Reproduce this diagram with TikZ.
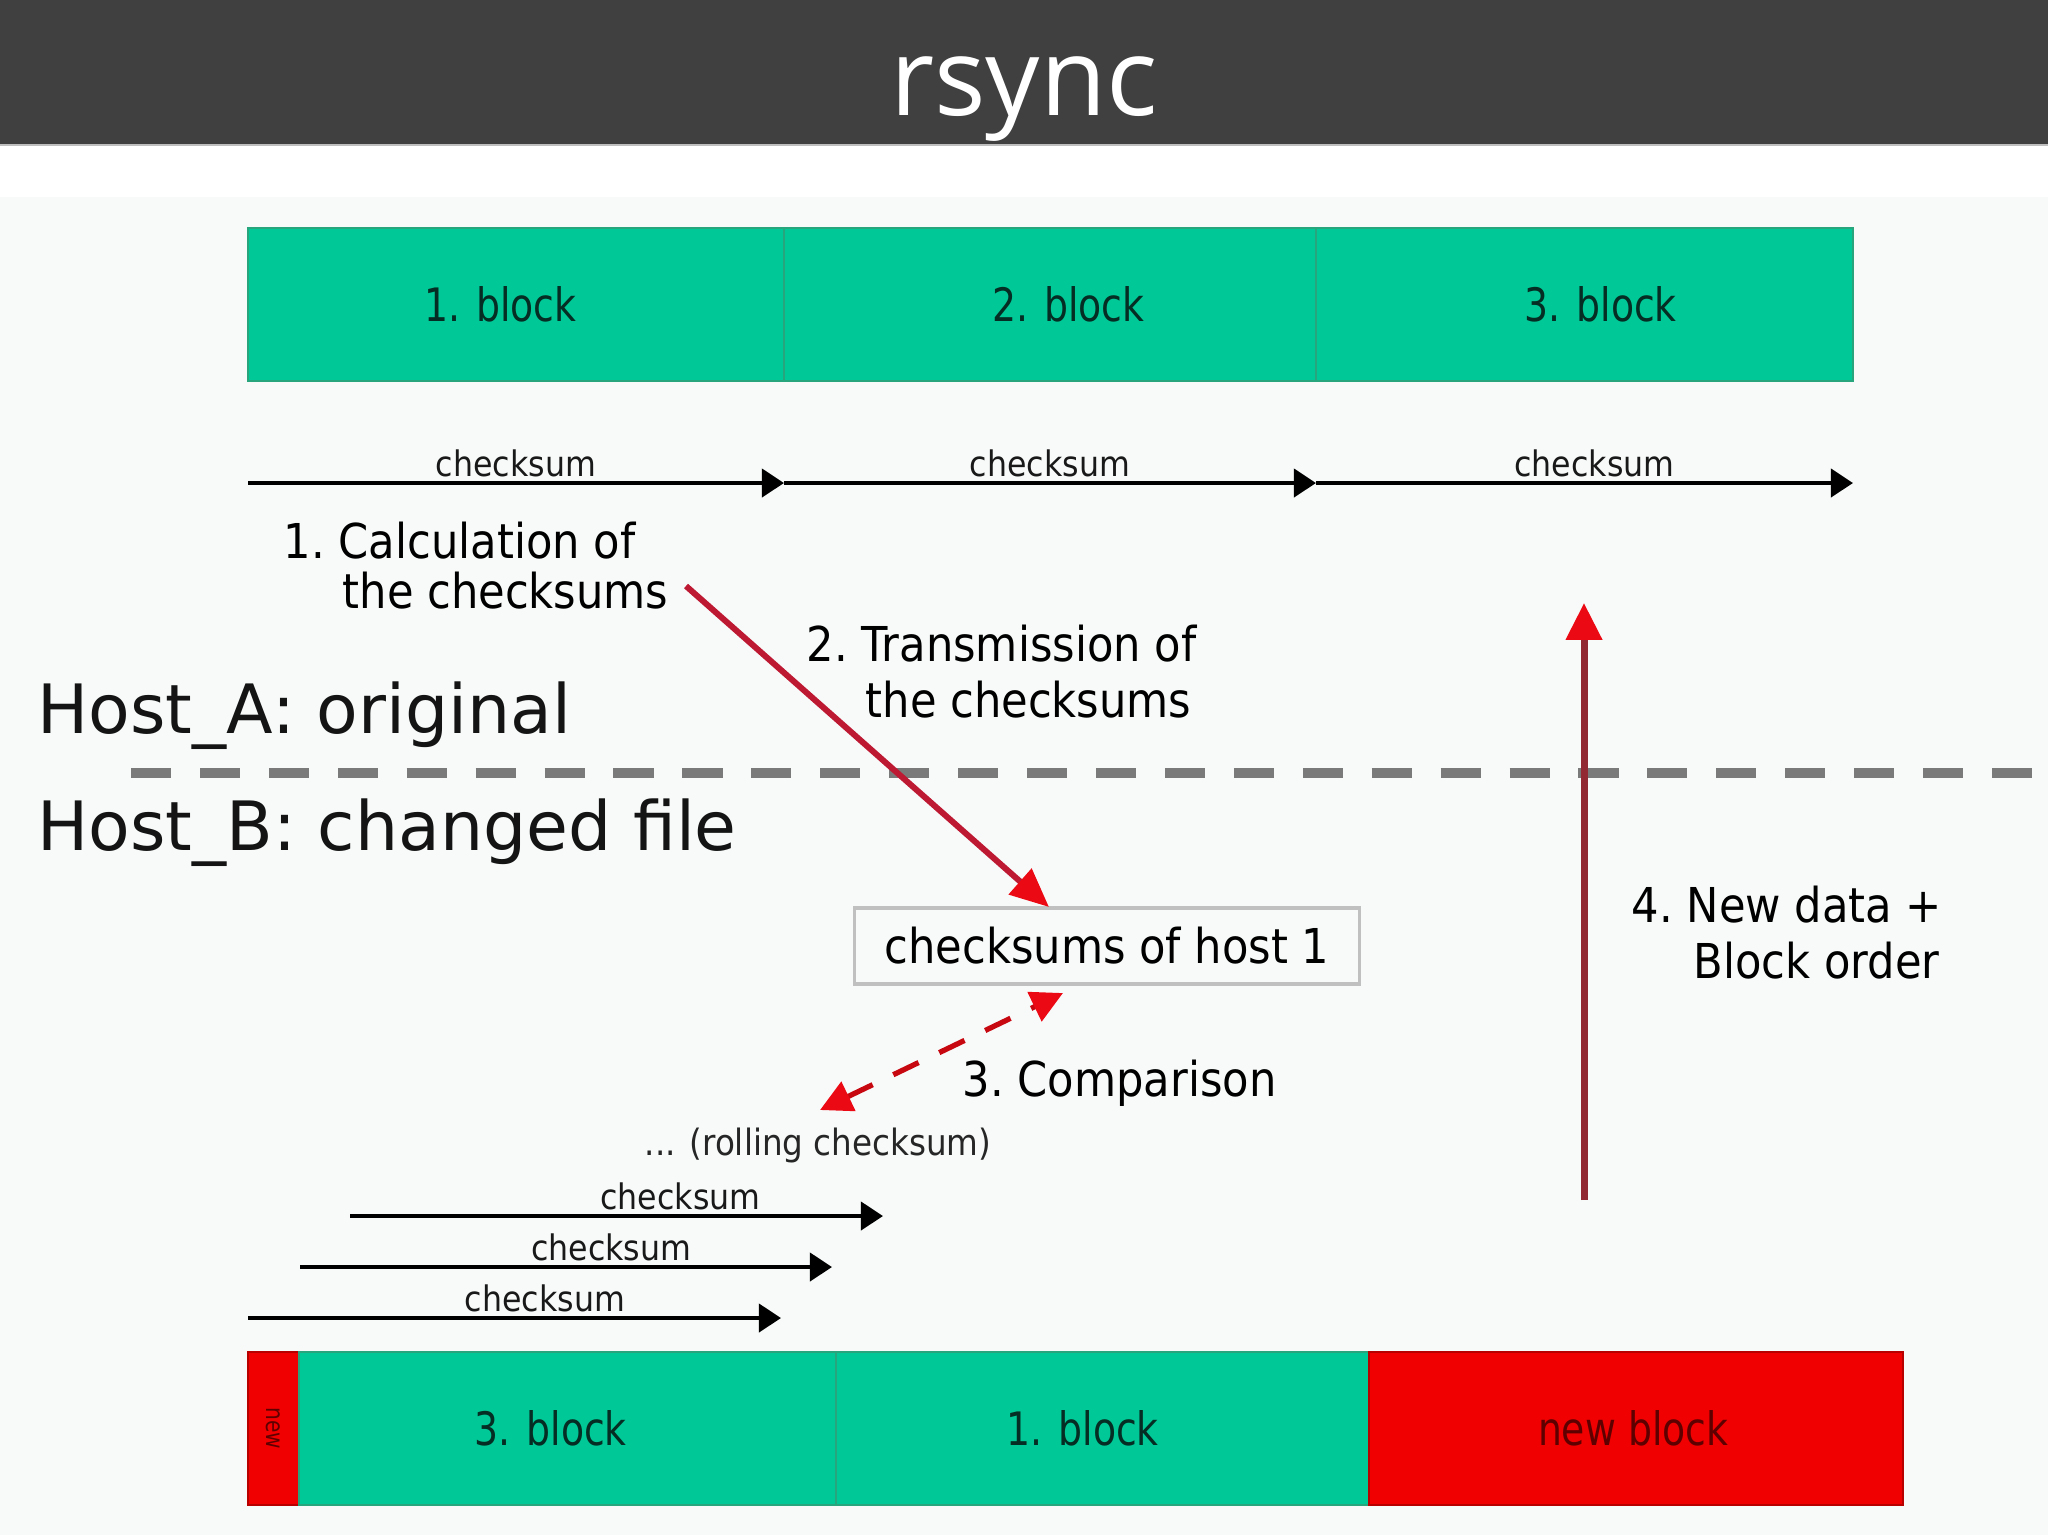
\documentclass[tikz,border=0pt]{standalone}
\usepackage{fontspec}
\setmainfont{DejaVu Sans}
\newfontfamily\titlefont{Open Sans}
\newfontfamily\condA[FakeStretch=0.9]{DejaVu Sans}
\newfontfamily\condB[FakeStretch=0.82]{DejaVu Sans}
\usetikzlibrary{arrows.meta}
\definecolor{hdr}{HTML}{404040}
\definecolor{bgc}{HTML}{F8FAFA}
\definecolor{grn}{RGB}{0,200,150}
\definecolor{grnb}{RGB}{40,165,125}
\definecolor{grnt}{RGB}{5,45,35}
\definecolor{rd}{RGB}{240,0,0}
\definecolor{rdb}{RGB}{185,0,0}
\definecolor{rdt}{RGB}{95,0,0}
\definecolor{arrd}{RGB}{190,25,50}
\definecolor{arrv}{RGB}{145,40,50}
\definecolor{tipred}{RGB}{235,10,20}
\definecolor{sepc}{HTML}{7A7A7A}
\definecolor{boxb}{HTML}{C0C0C0}
\tikzset{
 gblock/.style={draw=grnb, fill=grn, line width=0.6pt, anchor=north west, minimum height=1.53cm, inner sep=0pt, outer sep=0pt},
 rblock/.style={gblock, draw=rdb, fill=rd},
 gtext/.style={inner sep=0pt, text=grnt, font=\condB\fontsize{13.1pt}{15pt}\selectfont},
 rtext/.style={gtext, text=rdt},
 ck/.style={line width=1.15pt, -{Triangle[length=6.3pt,width=8pt]}},
 cklabel/.style={above, inner sep=1.2pt, text=black!90, font=\condA\fontsize{10pt}{12pt}\selectfont},
 lbl/.style={anchor=base west, inner sep=0pt, text=black, font=\condA\fontsize{13.66pt}{16pt}\selectfont},
 host/.style={anchor=base west, inner sep=0pt, text=black!92, font=\fontsize{19.35pt}{23pt}\selectfont},
}
\begin{document}
\begin{tikzpicture}[x=0.01cm, y=-0.01cm]
\useasboundingbox (0,0) rectangle (2048,1535);
% background
\fill[white] (0,0) rectangle (2048,1535);
\fill[bgc] (0,197) rectangle (2048,1535);
\fill[hdr] (0,0) rectangle (2048,145);
\draw[black!25, line width=0.5pt] (0,145) -- (2048,145);
\node[anchor=base, inner sep=0pt, text=white, font=\titlefont\fontsize{30.7pt}{36pt}\selectfont] (title) at (1024,115) {rsync};

% top blocks (Host_A original)
\node[gblock, minimum width=5.36cm] (a1) at (248,228) {};
\node[gblock, minimum width=5.32cm] (a2) at (784,228) {};
\node[gblock, minimum width=5.37cm] (a3) at (1316,228) {};
\node[gtext] (a1t) at ([xshift=-0.16cm]a1.center) {1. block};
\node[gtext] (a2t) at ([xshift=0.18cm]a2.center) {2. block};
\node[gtext] (a3t) at ([xshift=0.16cm]a3.center) {3. block};

% top checksum arrows
\coordinate (c0) at (248,483);
\coordinate (c1) at (784,483);
\coordinate (c2) at (1316,483);
\coordinate (c3) at (1853,483);
\draw[ck] (c0) -- node[cklabel] {checksum} (c1);
\draw[ck] (c1) -- node[cklabel] {checksum} (c2);
\draw[ck] (c2) -- node[cklabel, xshift=0.1cm] {checksum} (c3);

% step labels
\node[lbl] (l1a) at (283,558) {1.\ Calculation of};
\node[lbl] (l1b) at (342,608) {the checksums};
\node[lbl] (l2a) at (806,661) {2.\ Transmission of};
\node[lbl] (l2b) at (865,717) {the checksums};

% host labels and separator
\node[host] (hA) at (37,733) {Host\_A: original};
\node[host] (hB) at (37,850) {Host\_B: changed file};
\draw[sepc, line width=3.1pt, dash pattern=on 11.4pt off 8.2pt] (131,773) -- (2048,773);

% checksums box
\node[draw=boxb, line width=0.9pt, fill=bgc, minimum width=5.05cm, minimum height=0.76cm, inner sep=0pt,
      font=\condA\fontsize{13.66pt}{16pt}\selectfont] (box) at (1107,946) {checksums of host 1};

% transmission arrow
\coordinate (t2s) at (686,586);
\coordinate (t2e) at (1049,907);
\draw[arrd, line width=1.7pt, -{Triangle[length=11pt,width=9.5pt,color=tipred]}] (t2s) -- (t2e);

% comparison
\coordinate (cmpA) at (1063,993);
\coordinate (cmpB) at (820,1110);
\draw[tipred!85!black, line width=1.5pt, dash pattern=on 8pt off 6.5pt,
      {Triangle[length=9pt,width=9pt,color=tipred]}-{Triangle[length=9pt,width=9pt,color=tipred]}] (cmpB) -- (cmpA);
\node[lbl] (l3) at (962,1096) {3.\ Comparison};

% new data arrow
\coordinate (v0) at (1584,1200);
\coordinate (v1) at (1584,603);
\draw[arrv, line width=2pt, -{Triangle[length=10.5pt,width=10pt,color=tipred]}] (v0) -- (v1);
\node[lbl] (l4a) at (1631,922) {4.\ New data +};
\node[lbl] (l4b) at (1693,978) {Block order};

% rolling checksums
\node[anchor=base west, inner sep=0pt, text=black!85, font=\condA\fontsize{10.3pt}{12pt}\selectfont] (roll) at (644,1155) {... (rolling checksum)};
\coordinate (rA0) at (350,1216);
\coordinate (rA1) at (883,1216);
\coordinate (rB0) at (300,1267);
\coordinate (rB1) at (832,1267);
\coordinate (rC0) at (248,1318);
\coordinate (rC1) at (781,1318);
\draw[ck] (rA0) -- node[cklabel, pos=0.62] {checksum} (rA1);
\draw[ck] (rB0) -- node[cklabel, pos=0.585] {checksum} (rB1);
\draw[ck] (rC0) -- node[cklabel, pos=0.557] {checksum} (rC1);

% bottom blocks (Host_B changed file)
\node[rblock, minimum width=0.51cm] (b0) at (248,1352) {};
\node[rotate=-90, text=rdt, inner sep=0pt, font=\condB\fontsize{7pt}{8pt}\selectfont] (b0t) at (b0.center) {new};
\node[gblock, minimum width=5.37cm] (b1) at (299,1352) {};
\node[gblock, minimum width=5.33cm] (b2) at (836,1352) {};
\node[rblock, minimum width=5.34cm] (b3) at (1369,1352) {};
\node[gtext] (b1t) at ([xshift=-0.17cm]b1.center) {3. block};
\node[gtext] (b2t) at ([xshift=-0.2cm]b2.center) {1. block};
\node[rtext] (b3t) at ([xshift=-0.03cm]b3.center) {new block};
\end{tikzpicture}
\end{document}
